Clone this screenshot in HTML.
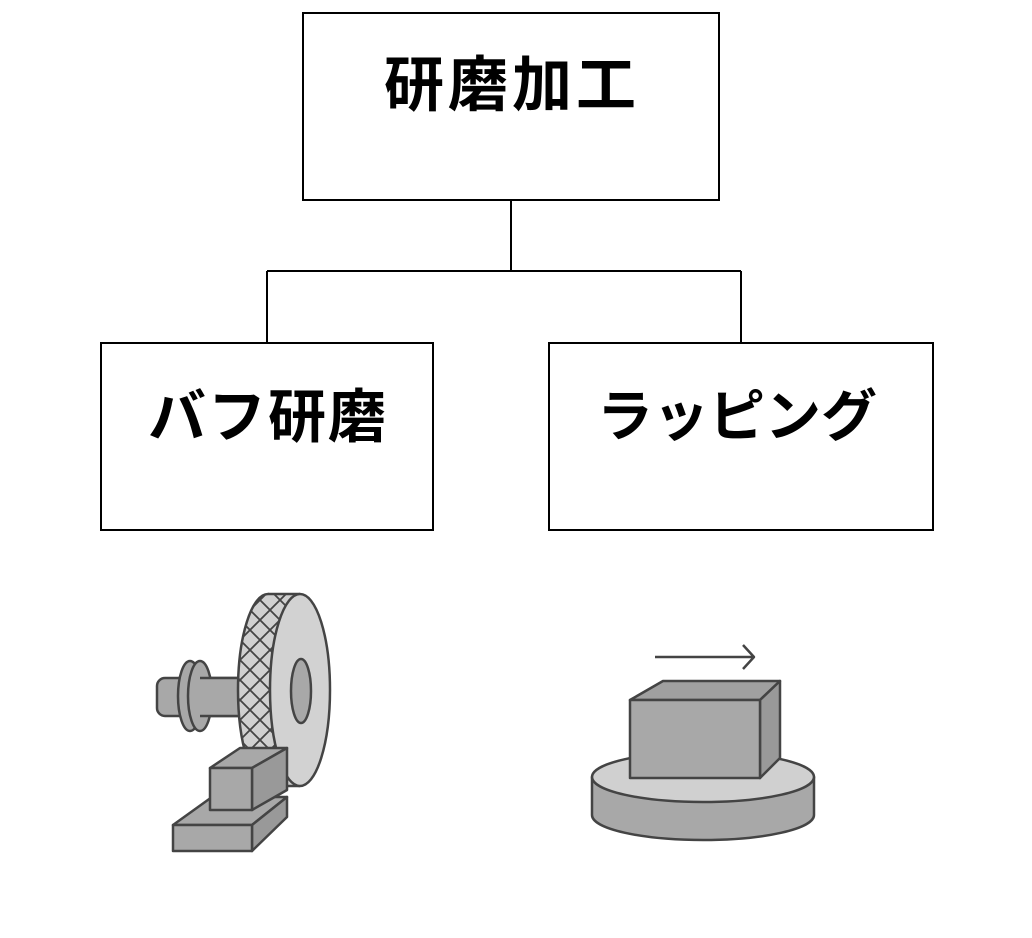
<!DOCTYPE html>
<html><head><meta charset="utf-8"><style>
html,body{margin:0;padding:0;background:#fff;}
svg{display:block;}
text{font-family:"Liberation Sans","Noto Sans CJK JP",sans-serif;font-weight:bold;fill:#000;}
</style></head><body>
<svg width="1032" height="938" viewBox="0 0 1032 938" xmlns="http://www.w3.org/2000/svg">
<defs>
<pattern id="hatch" width="20" height="20" patternUnits="userSpaceOnUse">
<rect width="20" height="20" fill="#d0d0d0"/>
<path d="M0 0L20 20M20 0L0 20" stroke="#444" stroke-width="1.8"/>
</pattern>
</defs>
<g fill="none" stroke="#000" stroke-width="2">
<rect x="303" y="13" width="416" height="187" fill="#fff"/>
<rect x="101" y="343" width="332" height="187" fill="#fff"/>
<rect x="549" y="343" width="384" height="187" fill="#fff"/>
<path d="M511 200V271M267 271H741M267 271V343M741 271V343"/>
</g>
<text x="512" y="106" font-size="60" letter-spacing="4" text-anchor="middle">研磨加工</text>
<text x="268" y="437" font-size="58" letter-spacing="2" text-anchor="middle">バフ研磨</text>
<text x="737" y="436" font-size="56" text-anchor="middle">ラッピング</text>

<g stroke="#444" stroke-width="2.5" stroke-linejoin="round">
<rect x="157" y="678" width="90" height="38" rx="8" fill="#a8a8a8"/>
<ellipse cx="190" cy="696" rx="12" ry="35" fill="#a8a8a8"/>
<ellipse cx="200" cy="696" rx="12" ry="35" fill="#a8a8a8"/>
<rect x="200" y="678" width="45" height="38" fill="#a8a8a8" stroke="none"/>
<path d="M200 678H245M200 716H245" fill="none"/>
<ellipse cx="268" cy="690" rx="30" ry="96" fill="url(#hatch)"/>
<path d="M268 594H300V786H268Z" fill="url(#hatch)" stroke="none"/>
<path d="M268 594H300M268 786H300" fill="none"/>
<ellipse cx="300" cy="690" rx="30" ry="96" fill="#d2d2d2"/>
<ellipse cx="301" cy="691" rx="10" ry="32" fill="#a8a8a8"/>
<path d="M173 825L212 797H287L252 825Z" fill="#a8a8a8"/>
<path d="M252 825L287 797V817L252 851Z" fill="#999"/>
<rect x="173" y="825" width="79" height="26" fill="#a8a8a8"/>
<path d="M210 768L240 748H287L252 768Z" fill="#a8a8a8"/>
<path d="M252 768L287 748V790L252 810Z" fill="#999"/>
<rect x="210" y="768" width="42" height="42" fill="#a8a8a8"/>
</g>

<g stroke="#444" stroke-width="2.5" stroke-linejoin="round">
<path d="M592 777V815A111 25 0 0 0 814 815V777Z" fill="#a8a8a8"/>
<ellipse cx="703" cy="777" rx="111" ry="25" fill="#d0d0d0"/>
<path d="M630 700L663 681H780L760 700Z" fill="#a0a0a0"/>
<path d="M760 700L780 681V758L760 778Z" fill="#999"/>
<rect x="630" y="700" width="130" height="78" fill="#a8a8a8"/>
<path d="M655 657H754M743 645L754 657L743 669" fill="none"/>
</g>
</svg>
</body></html>
